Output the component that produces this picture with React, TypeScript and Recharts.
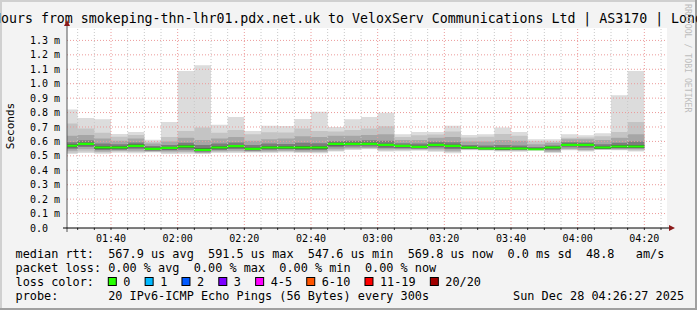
import React from "react";
import { ComposedChart, Area, XAxis, YAxis, ReferenceLine } from "recharts";

// interval start times (5 minute steps), last one ends at endTime
const times = [
  "01:25", "01:30", "01:35", "01:40", "01:45", "01:50", "01:55",
  "02:00", "02:05", "02:10", "02:15", "02:20", "02:25", "02:30", "02:35", "02:40", "02:45", "02:50", "02:55",
  "03:00", "03:05", "03:10", "03:15", "03:20", "03:25", "03:30", "03:35", "03:40", "03:45", "03:50", "03:55",
  "04:00", "04:05", "04:10", "04:15",
];
const endTime = "04:20";

// rtt in ms
const median = [0.570, 0.583, 0.558, 0.558, 0.569, 0.548, 0.555, 0.565, 0.541, 0.558, 0.567, 0.548, 0.558, 0.558, 0.558, 0.558, 0.583, 0.583, 0.583, 0.576, 0.569, 0.562, 0.576, 0.569, 0.558, 0.551, 0.551, 0.551, 0.546, 0.558, 0.576, 0.576, 0.558, 0.565, 0.565];
const maxRtt = [0.822, 0.763, 0.754, 0.652, 0.666, 0.611, 0.735, 1.088, 1.128, 0.715, 0.770, 0.673, 0.708, 0.706, 0.756, 0.806, 0.700, 0.754, 0.770, 0.798, 0.650, 0.666, 0.666, 0.708, 0.645, 0.650, 0.696, 0.666, 0.615, 0.615, 0.650, 0.643, 0.657, 0.920, 1.088];
const minRtt = [0.512, 0.520, 0.515, 0.522, 0.518, 0.524, 0.513, 0.515, 0.512, 0.520, 0.520, 0.522, 0.520, 0.524, 0.520, 0.518, 0.530, 0.540, 0.545, 0.530, 0.532, 0.535, 0.528, 0.518, 0.538, 0.536, 0.530, 0.528, 0.535, 0.520, 0.538, 0.530, 0.540, 0.538, 0.530];
const hi1 = [0.724, 0.690, 0.660, 0.632, 0.645, 0.598, 0.630, 0.673, 0.696, 0.660, 0.680, 0.650, 0.664, 0.662, 0.690, 0.672, 0.668, 0.680, 0.690, 0.705, 0.630, 0.642, 0.648, 0.668, 0.628, 0.632, 0.652, 0.640, 0.602, 0.600, 0.625, 0.628, 0.636, 0.666, 0.735];
const lo1 = [0.522, 0.530, 0.524, 0.530, 0.527, 0.530, 0.522, 0.524, 0.518, 0.528, 0.528, 0.528, 0.527, 0.530, 0.526, 0.525, 0.536, 0.545, 0.550, 0.537, 0.538, 0.540, 0.535, 0.526, 0.542, 0.540, 0.534, 0.533, 0.538, 0.526, 0.543, 0.535, 0.543, 0.542, 0.537];
const hi2 = [0.640, 0.645, 0.620, 0.605, 0.620, 0.585, 0.600, 0.625, 0.610, 0.620, 0.630, 0.605, 0.615, 0.620, 0.635, 0.630, 0.640, 0.640, 0.645, 0.650, 0.610, 0.610, 0.625, 0.630, 0.600, 0.600, 0.610, 0.605, 0.580, 0.590, 0.615, 0.615, 0.610, 0.625, 0.650];
const lo2 = [0.535, 0.545, 0.530, 0.535, 0.535, 0.530, 0.530, 0.530, 0.520, 0.532, 0.535, 0.530, 0.532, 0.535, 0.530, 0.530, 0.545, 0.552, 0.555, 0.545, 0.545, 0.545, 0.545, 0.535, 0.545, 0.542, 0.538, 0.538, 0.540, 0.530, 0.548, 0.540, 0.545, 0.546, 0.545];
const hi3 = [0.595, 0.608, 0.585, 0.580, 0.592, 0.568, 0.575, 0.590, 0.575, 0.585, 0.592, 0.575, 0.585, 0.582, 0.590, 0.588, 0.602, 0.604, 0.608, 0.605, 0.588, 0.585, 0.598, 0.595, 0.575, 0.572, 0.575, 0.572, 0.562, 0.572, 0.595, 0.592, 0.580, 0.590, 0.600];
const lo3 = [0.550, 0.562, 0.540, 0.542, 0.550, 0.536, 0.538, 0.542, 0.528, 0.540, 0.548, 0.535, 0.542, 0.545, 0.540, 0.540, 0.560, 0.565, 0.565, 0.555, 0.552, 0.550, 0.558, 0.548, 0.550, 0.545, 0.542, 0.542, 0.540, 0.540, 0.560, 0.556, 0.550, 0.552, 0.552];
const hi4 = [0.578, 0.590, 0.566, 0.566, 0.578, 0.556, 0.562, 0.574, 0.552, 0.566, 0.575, 0.556, 0.566, 0.566, 0.568, 0.566, 0.590, 0.590, 0.590, 0.584, 0.576, 0.570, 0.584, 0.577, 0.564, 0.558, 0.558, 0.558, 0.552, 0.564, 0.583, 0.583, 0.565, 0.573, 0.573];
const lo4 = [0.560, 0.574, 0.548, 0.550, 0.560, 0.540, 0.546, 0.555, 0.534, 0.550, 0.558, 0.540, 0.550, 0.550, 0.548, 0.548, 0.572, 0.575, 0.576, 0.566, 0.560, 0.555, 0.566, 0.560, 0.550, 0.546, 0.543, 0.545, 0.540, 0.550, 0.568, 0.566, 0.550, 0.556, 0.556];

const yTicks = [0, 0.1, 0.2, 0.3, 0.4, 0.5, 0.6, 0.7, 0.8, 0.9, 1.0, 1.1, 1.2, 1.3];
const majorTimes = ["01:40", "02:00", "02:20", "02:40", "03:00", "03:20", "03:40", "04:00", "04:20"];

const lossLabels = ["0", "1", "2", "3", "4-5", "6-10", "11-19", "20/20"];
const lossColors = ["#26ff00", "#00b8ff", "#0059ff", "#7e00ff", "#ff00ff", "#ff5500", "#ff0000", "#a10000"];

const title = "Last 3 Hours from smokeping-thn-lhr01.pdx.net.uk to VeloxServ Communications Ltd | AS3170 | London";
const rttLine = "median rtt:  567.9 us avg  591.5 us max  547.6 us min  569.8 us now  0.0 ms sd  48.8   am/s";
const lossLine = "packet loss: 0.00 % avg  0.00 % max  0.00 % min  0.00 % now";
const probeLine = "probe:       20 IPv6-ICMP Echo Pings (56 Bytes) every 300s";
const stamp = "Sun Dec 28 04:26:27 2025";

const toMin = (s: string) => {
  const [h, m] = s.split(":").map(Number);
  return h * 60 + m;
};
const fmtMin = (v: number) => {
  const h = Math.floor(v / 60);
  const m = v % 60;
  return `${String(h).padStart(2, "0")}:${String(m).padStart(2, "0")}`;
};

const rowAt = (t: number, i: number) => ({
  t,
  median: median[i],
  max: maxRtt[i],
  min: minRtt[i],
  hi1: hi1[i],
  lo1: lo1[i],
  hi2: hi2[i],
  lo2: lo2[i],
  hi3: hi3[i],
  lo3: lo3[i],
  hi4: hi4[i],
  lo4: lo4[i],
});
const rows = times.map((s, i) => rowAt(toMin(s), i));
rows.push(rowAt(toMin(endTime), times.length - 1));

const majors = majorTimes.map(toMin);
const allTicks: number[] = [];
for (let t = toMin("01:30"); t <= toMin("04:25"); t += 5) allTicks.push(t);
const minors = allTicks.filter((t) => !majors.includes(t));

// median line thickness in ms (about 2px at this scale)
const MEDIAN_HALF = 0.0075;

const bands = [
  { id: "b0", color: "#dcdcdc", get: (d: any) => [d.min, d.max] },
  { id: "b1", color: "#c4c4c4", get: (d: any) => [d.lo1, d.hi1] },
  { id: "b2", color: "#a6a6a6", get: (d: any) => [d.lo2, d.hi2] },
  { id: "b3", color: "#7c7c7c", get: (d: any) => [d.lo3, d.hi3] },
  { id: "b4", color: "#4a4a4a", get: (d: any) => [d.lo4, d.hi4] },
  { id: "med", color: "#22ff00", get: (d: any) => [d.median - MEDIAN_HALF, d.median + MEDIAN_HALF] },
];

const FONT = "'DejaVu Sans Mono', monospace";
const LEG = 11.85;
const CW = LEG * 0.602;
const TITLE = 13.25;

const YTick = (props: any) => {
  const { y, payload } = props;
  const v = payload.value as number;
  return (
    <text x={30} y={y + 3.6} fontFamily={FONT} fontSize={10} fill="#000">
      {v === 0 ? "0.0" : `${v.toFixed(1)} m`}
    </text>
  );
};

const XTick = (props: any) => {
  const { x, payload } = props;
  if (!majors.includes(payload.value)) return null;
  return (
    <text x={x} y={241.5} textAnchor="middle" fontFamily={FONT} fontSize={10} fill="#000">
      {fmtMin(payload.value)}
    </text>
  );
};

const W = 697;
const H = 310;

export default function App() {
  let bx = 108.3;
  const lossItems = lossLabels.map((lab, i) => {
    const x = bx;
    bx += 15 + lab.length * CW + 14.7;
    return (
      <g key={lab}>
        <rect x={x} y={277.5} width={8} height={8} fill={lossColors[i]} stroke="#000" strokeWidth={1} />
        <text x={x + 15} y={286} fontFamily={FONT} fontSize={LEG} fill="#000">
          {lab}
        </text>
      </g>
    );
  });

  return (
    <div style={{ position: "absolute", left: 0, top: 0, width: W, height: H, overflow: "hidden" }}>
      <svg width={W} height={H} style={{ position: "absolute", left: 0, top: 0 }}>
        <rect x={0} y={0} width={W} height={H} fill="#f3f3f3" />
        <rect x={0} y={0} width={W} height={2} fill="#d0d0d0" />
        <rect x={0} y={0} width={2} height={H} fill="#d0d0d0" />
        <rect x={0} y={H - 2} width={W} height={2} fill="#a0a0a0" />
        <rect x={W - 2} y={0} width={2} height={H} fill="#a0a0a0" />
        <rect x={67} y={28} width={600} height={200} fill="#ffffff" />
      </svg>
      <div style={{ position: "absolute", left: 0, top: 0 }}>
        <ComposedChart width={W} height={H} data={rows} margin={{ top: 28, right: 30, bottom: 52, left: 0 }}>
          <XAxis
            dataKey="t"
            type="number"
            domain={[86.8, 266.8]}
            allowDataOverflow
            ticks={allTicks}
            interval={0}
            tick={<XTick />}
            tickSize={2}
            tickLine={{ stroke: "#333" }}
            axisLine={false}
            height={30}
          />
          <YAxis
            type="number"
            domain={[0, 1.386]}
            allowDataOverflow
            ticks={yTicks}
            interval={0}
            tick={<YTick />}
            tickLine={false}
            axisLine={false}
            width={67}
          />
          {bands.map((b) => (
            <Area
              key={b.id}
              name={b.id}
              type="stepAfter"
              dataKey={b.get}
              fill={b.color}
              fillOpacity={1}
              stroke="none"
              dot={false}
              activeDot={false}
              isAnimationActive={false}
            />
          ))}
          {minors.map((t) => (
            <ReferenceLine key={`m${t}`} x={t} stroke="#c8c8c8" strokeDasharray="1 2" />
          ))}
          {yTicks.slice(1).map((v) => (
            <ReferenceLine key={`h${v}`} y={v} stroke="#ec9a9a" strokeDasharray="1 2" />
          ))}
          {majors.map((t) => (
            <ReferenceLine key={`M${t}`} x={t} stroke="#ec9a9a" strokeDasharray="1 2" />
          ))}
        </ComposedChart>
      </div>
      <svg width={W} height={H} style={{ position: "absolute", left: 0, top: 0, pointerEvents: "none" }}>
        <text x={1 - 8 * TITLE * 0.602} y={22.5} fontFamily={FONT} fontSize={TITLE} fill="#000">
          {title}
        </text>
        <text
          x={0}
          y={0}
          transform="translate(14,126) rotate(-90)"
          textAnchor="middle"
          fontFamily={FONT}
          fontSize={11}
          fill="#000"
        >
          Seconds
        </text>
        <text
          x={0}
          y={0}
          transform="translate(684.5,4) rotate(90)"
          fontFamily={FONT}
          fontSize={8.2}
          fill="#bdbdbd"
        >
          RRDTOOL / TOBI OETIKER
        </text>
        <line x1={67} y1={232} x2={67} y2={25} stroke="#555" strokeWidth={1} />
        <polygon points="64,26 70,26 67,20" fill="#8b1a1a" />
        <line x1={63} y1={228} x2={670} y2={228} stroke="#000" strokeWidth={1} />
        <polygon points="669,225 669,231 675,228" fill="#8b1a1a" />
        <text x={15.5} y={258.3} fontFamily={FONT} fontSize={LEG} fill="#000" style={{ whiteSpace: "pre" }}>
          {rttLine}
        </text>
        <text x={15.5} y={272.1} fontFamily={FONT} fontSize={LEG} fill="#000" style={{ whiteSpace: "pre" }}>
          {lossLine}
        </text>
        <text x={15.5} y={286} fontFamily={FONT} fontSize={LEG} fill="#000" style={{ whiteSpace: "pre" }}>
          loss color:
        </text>
        {lossItems}
        <text x={15.5} y={299.8} fontFamily={FONT} fontSize={LEG} fill="#000" style={{ whiteSpace: "pre" }}>
          {probeLine}
        </text>
        <text x={513} y={299.8} fontFamily={FONT} fontSize={LEG} fill="#000" style={{ whiteSpace: "pre" }}>
          {stamp}
        </text>
      </svg>
    </div>
  );
}
